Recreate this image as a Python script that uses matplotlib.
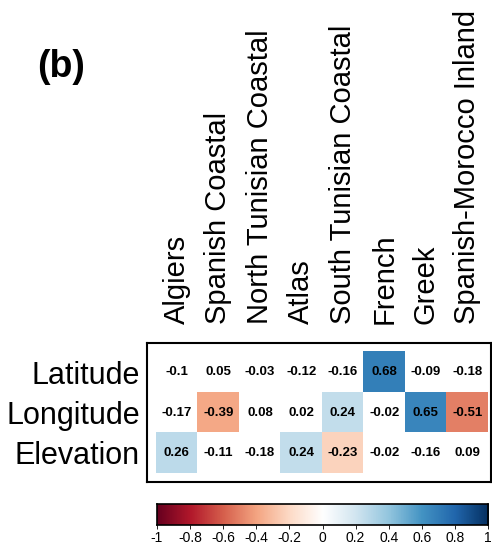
""" Correlation of cluster membership with geography. """

import numpy as np
import matplotlib
matplotlib.use('Agg')
import matplotlib.pyplot as plt
from matplotlib.colors import LinearSegmentedColormap, Normalize

plt.rcParams['font.family'] = ['Liberation Sans', 'DejaVu Sans']

clusters = ['Algiers', 'Spanish Coastal', 'North Tunisian Coastal', 'Atlas',
            'South Tunisian Coastal', 'French', 'Greek', 'Spanish-Morocco Inland']
variables = ['Latitude', 'Longitude', 'Elevation']

latitude = [-0.10, 0.05, -0.03, -0.12, -0.16, 0.68, -0.09, -0.18]
longitude = [-0.17, -0.39, 0.08, 0.02, 0.24, -0.02, 0.65, -0.51]
elevation = [0.26, -0.11, -0.18, 0.24, -0.23, -0.02, -0.16, 0.09]

# cells that pass the significance test keep their colour, the rest are blank
sig_latitude = [0, 0, 0, 0, 0, 1, 0, 0]
sig_longitude = [0, 1, 0, 0, 1, 0, 1, 1]
sig_elevation = [1, 0, 0, 1, 1, 0, 0, 0]

cbar_ticks = [-1, -0.8, -0.6, -0.4, -0.2, 0, 0.2, 0.4, 0.6, 0.8, 1]

# corrplot-style RdBu ramp with a pure white centre
rdbu = LinearSegmentedColormap.from_list('rdbu_corr', [
    '#67001F', '#B2182B', '#D6604D', '#F4A582', '#FDDBC7', '#FFFFFF',
    '#D1E5F0', '#92C5DE', '#4393C3', '#2166AC', '#053061'], N=200)
norm = Normalize(-1, 1)

corr = np.array([latitude, longitude, elevation])
sig = np.array([sig_latitude, sig_longitude, sig_elevation], dtype=bool)

fig = plt.figure(figsize=(4.92, 5.45), dpi=100)

ax = fig.add_axes([0.2988, 0.1156, 0.6992, 0.255])
rgba = rdbu(norm(corr))
rgba[~sig] = (1, 1, 1, 1)
ax.imshow(rgba, aspect='auto', interpolation='nearest')

for i in range(corr.shape[0]):
    for j in range(corr.shape[1]):
        ax.text(j, i, '%g' % corr[i, j], ha='center', va='center',
                fontsize=9.5, fontweight='bold', color='black')

ax.set_xlim(-0.5 - 0.22, 7.5 + 0.07)
ax.set_ylim(2.5 + 0.22, -0.5 - 0.22)
for s in ax.spines.values():
    s.set_linewidth(1.5)

ax.xaxis.tick_top()
ax.set_xticks(range(len(clusters)))
ax.set_xticklabels(clusters, rotation=90, fontsize=21, va='bottom')
ax.set_yticks(range(len(variables)))
ax.set_yticklabels(variables, fontsize=22)
ax.tick_params(axis='x', length=0, pad=14)
ax.tick_params(axis='y', length=0, pad=5)

# colour key
cax = fig.add_axes([0.319, 0.0367, 0.673, 0.0385])
grad = np.linspace(-1, 1, 400).reshape(1, -1)
cax.imshow(grad, cmap=rdbu, norm=norm, aspect='auto',
           extent=[-1, 1, 0, 1], interpolation='bilinear')
cax.set_xlim(-1, 1)
cax.set_yticks([])
cax.set_xticks(cbar_ticks)
cax.set_xticklabels(['%g' % t for t in cbar_ticks], fontsize=10)
cax.tick_params(axis='x', length=3, width=0.6, pad=1)
for s in cax.spines.values():
    s.set_linewidth(1.2)

fig.text(0.124, 0.877, '(b)', fontsize=27, fontweight='bold',
         ha='center', va='center')

fig.savefig('out.png', dpi=100)
